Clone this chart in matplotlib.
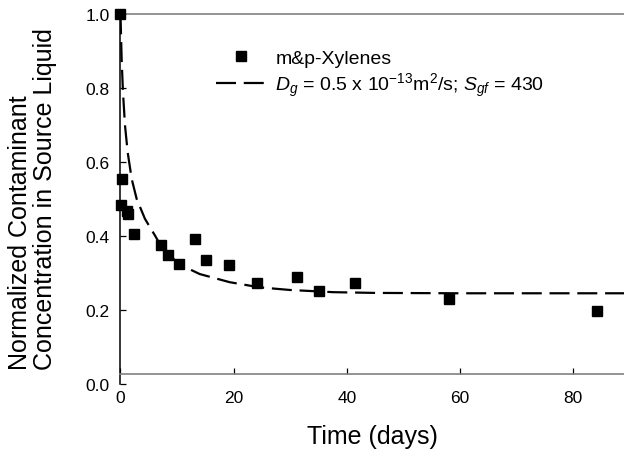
import matplotlib
matplotlib.use("Agg")
import matplotlib.pyplot as plt
from matplotlib.lines import Line2D

plt.rcParams['font.family'] = ['Liberation Sans', 'DejaVu Sans']
plt.rcParams['mathtext.fontset'] = 'custom'
plt.rcParams['mathtext.rm'] = 'Liberation Sans'
plt.rcParams['mathtext.it'] = 'Liberation Sans:italic'

# measured data (m&p-Xylenes)
x_obs = [0, 0.2, 0.1, 1.1, 1.3, 2.4, 7.2, 8.4, 10.3, 13.2, 15.2, 19.2, 24.1,
         31.2, 35.1, 41.4, 58.1, 84.2]
y_obs = [1.0, 0.554, 0.485, 0.468, 0.46, 0.407, 0.377, 0.349, 0.324, 0.393,
         0.337, 0.322, 0.273, 0.289, 0.252, 0.273, 0.231, 0.197]

# model curve
x_fit = [0, 0.1, 0.2, 0.44, 0.8, 1.27, 1.98, 2.86, 4.33, 6.1, 7.0, 8.5, 10.3,
         14.0, 19.3, 24.6, 29.9, 37.6, 45, 60, 89]
y_fit = [1.0, 0.94, 0.879, 0.789, 0.699, 0.627, 0.555, 0.501, 0.447, 0.402,
         0.378, 0.352, 0.325, 0.298, 0.276, 0.262, 0.255, 0.249, 0.247,
         0.246, 0.246]

x_ticks = [0, 20, 40, 60, 80]
y_ticks = [0.0, 0.2, 0.4, 0.6, 0.8, 1.0]

fig = plt.figure(figsize=(6.24, 4.6), dpi=100)
ax = fig.add_axes([0.1931, 0.1624, 0.8069, 0.8043])

ax.plot(x_fit, y_fit, color='black', lw=1.6, dashes=(9, 3.5), zorder=3)
ax.plot(x_obs, y_obs, ls='none', marker='s', ms=6.5, color='black',
        clip_on=False, zorder=4)

ax.set_xlim(0, 89)
ax.set_ylim(0, 1.0)
ax.set_xticks(x_ticks)
ax.set_yticks(y_ticks)
ax.set_yticklabels([f"{v:.1f}" for v in y_ticks])

# spines: bottom axis sits a little above zero, grey frame lines
ax.spines['right'].set_visible(False)
ax.spines['top'].set_color('#808080')
ax.spines['top'].set_linewidth(1.2)
ax.spines['bottom'].set_color('#808080')
ax.spines['bottom'].set_linewidth(1.2)
ax.spines['bottom'].set_position(('data', 0.027))
ax.spines['left'].set_linewidth(1.1)

ax.tick_params(axis='both', direction='in', length=4, width=0.9,
               labelsize=12.5, colors='black')
ax.tick_params(axis='x', pad=11)
ax.tick_params(axis='y', pad=8)
ax.tick_params(top=False, right=False)

fig.text(0.5968, 0.05, 'Time (days)', fontsize=18, ha='center', va='center')
fig.text(0.052, 0.567, 'Normalized Contaminant\nConcentration in Source Liquid',
         fontsize=18, rotation=90, ha='center', va='center',
         multialignment='left', linespacing=1.05)

handles = [
    Line2D([], [], ls='none', marker='s', ms=6.5, color='black'),
    Line2D([], [], color='black', lw=1.6, dashes=(9, 3.5)),
]
labels = ['m&p-Xylenes',
          r'$D_g$ = 0.5 x 10$^{-13}$m$^2$/s; $S_{gf}$ = 430']
ax.legend(handles, labels, loc='upper left', bbox_to_anchor=(0.19, 0.905),
          frameon=False, fontsize=14, handlelength=2.6, handletextpad=0.45,
          labelspacing=0.2, borderpad=0, borderaxespad=0)

fig.savefig('out.png', dpi=100)
